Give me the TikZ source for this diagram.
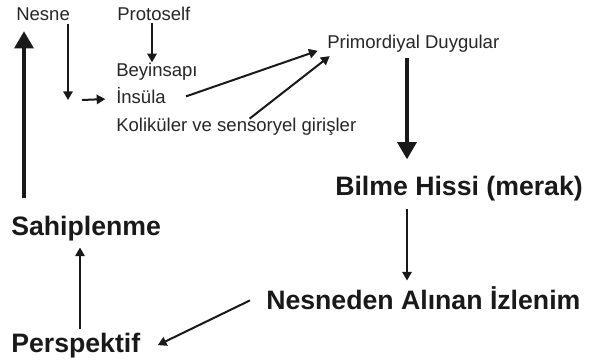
\documentclass[tikz,border=0pt]{standalone}
\usepackage{fontspec}
\setmainfont{Liberation Sans}
\usetikzlibrary{arrows.meta}
\begin{document}
\begin{tikzpicture}[x=0.75pt,y=-0.75pt,
  small/.style={font=\fontsize{13.9}{16}\selectfont, inner sep=0pt, anchor=base west, text=black!85},
  big/.style={font=\fontsize{20}{23}\selectfont\bfseries, inner sep=0pt, anchor=base west, text=black!90},
  thinarrow/.style={line width=1.5pt, draw=black!90, -{Triangle[length=6.5pt,width=7pt]}},
  thickarrow/.style={line width=3.2pt, draw=black!90, -{Triangle[length=13pt,width=14pt]}}]
\useasboundingbox[fill=white] (0,0) rectangle (589,362);
% nodes
\node[small] (nesne) at (16,20) {Nesne};
\node[small] (proto) at (117,20) {Protoself};
\node[small] (beyin) at (116,76) {Beyinsapı};
\node[small] (insula) at (116,103) {İnsüla};
\node[small] (kol) at (116,131) {Koliküler ve sensoryel girişler};
\node[small] (prim) at (327,48) {Primordiyal Duygular};
\node[big] (bilme) at (335,195) {Bilme Hissi (merak)};
\node[big] (nes) at (266,309) {Nesneden Alınan İzlenim};
\node[big] (persp) at (11,352) {Perspektif};
\node[big] (sahip) at (11,235) {Sahiplenme};
% helper coordinates
\coordinate (colx) at (407,0);
\coordinate (ax) at (80,0);
\coordinate (bx) at (24,0);
\coordinate (px) at (152,0);
\coordinate (nx) at (68,0);
\coordinate (n1) at (68,100);
\coordinate (n2) at (82,100);
% connectors
\draw[thinarrow] (proto.south -| px) ++(0,3) -- (beyin.north -| px);
\draw[thinarrow] (nesne.south -| nx) ++(0,4) -- (n1);
\draw[thinarrow] (n2) -- ([xshift=-8pt,yshift=-3pt]insula.west);
\draw[thinarrow] ([xshift=15pt,yshift=-1pt]insula.east) -- ([xshift=-7pt,yshift=1pt]prim.south west);
\draw[thinarrow] ([xshift=10pt,yshift=-1pt]kol.north) -- ([xshift=2pt,yshift=-3pt]prim.south west);
\draw[thickarrow] (prim.south -| colx) ++(0,6) -- ([yshift=12pt]bilme.north -| colx);
\draw[thinarrow] (bilme.south -| colx) ++(0,8) -- ([yshift=4pt]nes.north -| colx);
\draw[thinarrow] ([xshift=-12pt,yshift=-2pt]nes.west) -- ([xshift=13pt]persp.east);
\draw[thinarrow] (persp.north -| ax) ++(0,-3) -- ([yshift=-5pt]sahip.south -| ax);
\draw[thickarrow] (sahip.north -| bx) ++(0,-17) -- ([yshift=-8pt]nesne.south -| bx);
\end{tikzpicture}
\end{document}
